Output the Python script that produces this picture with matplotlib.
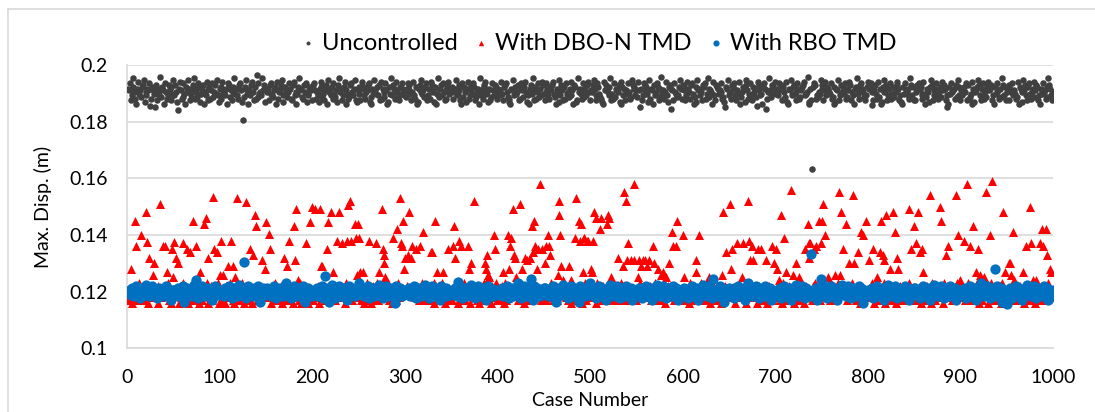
import numpy as np
import matplotlib
matplotlib.use("Agg")
import matplotlib.pyplot as plt
from matplotlib.lines import Line2D

plt.rcParams['font.family'] = ['Lato', 'DejaVu Sans']

# values are stored as one character per case: value = base + index(char) * step
ALPHABET = "0123456789abcdefghijklmnopqrstuvwxyzABCDEFGHIJKLMNOPQRSTUVWXYZ"

# Uncontrolled (base 0.1719, step 0.0006)
UNC_CODES = [
    "xwAqtyDvroxBuwsyzCptvxwAnrywuBzqvxtEsywoAvrtzxqyuC",
    "tzvpyxBwrAsuoyvCxqtwzDrvxsAypuwzovtBxqyrwAsvzuCtpx",
    "ryBuvtxoAzswqyvDuxtrzAwpvsyCxuowtzBvqyrxAsuvtDwzpx",
    "vxqzAutswyoBrvxzCtpuywsvAxrqzBtvouyDwxsrzvAptuyxwq",
    "zAwrvtpxyBsuqwzoCvxtyrAuswpzDvxqtyBowurszAvtxCqpwy",
    "uqxBytrvwzAposxvCwuytzqBrxvsAwopyuDtzxrvBwsqyuAxtv",
    "sxAwzuqvBtryopxzCvuwsyAqtxrBzvpwyouDsxztAvqwryBuxv",
    "yrvxCtuzwqoAsyvpxBrtwzuAyqsvxoDtwrzyBuvpxqsAwtzyvr",
    "xtwBuqyzAvsrpoxwCtyuvzqrAxwsyBvptoxzuDwqyrvAsxtBzu",
    "qAvxtrywzBusoxvpCtzwqyrAuvsxBtwozypqDvxurAswytzBvq",
    "wvzCxqtAyusrpoBwzxvtyDqurAsxwvzpoBytxqwuAvrsCzyxtw",
    "sBwmxqtAzvyupCrxwoztvAyqsxEuwrvBtpyzxlwqAvustyCxrz",
    "ywqtBxvrzAuosypCwxtvqzyAruDsxwvoBtqzyxuwAvrspmyxCt",
    "vrzyAxtqwuBosvyxpCzwruAtqyvxsnBwztuoyAxqrvDwsuzyxB",
    "uxtAwzqyrvsBpoxwCtyzuvqAxrswyzBtuvEopxqwyAzrtsvuCx",
    "zqwBtyxvuArsoypxwCqtzvyuArxswBzqvtoxyDuwrzAxvsqtyB",
    "xyAvtqwzurBsxopyvCwzqtxAruysvwBzxqtpoyuAwvxrsDztyq",
    "qvzxAwytrBuosxvpyCzqwtxAurvysBwzxqtmoyuAvwxrzsCtyq",
    "wtxyvAqzrsuBoxpvwyCztqxAurvsyBwxzqtoyuAvwrxsDztyqv",
    "yzqxvAtwursBoyxpvCwztqyAurvxsBwzyqtoxuAvwrysDzxtqv",
]
UNC_OUTLIERS = [(30, 0.1850), (55, 0.1842), (125, 0.1805), (140, 0.1966), (690, 0.1845),
                (740, 0.1632), (805, 0.1858)]

# With DBO-N TMD: lower band (base 0.110, step 0.001) plus the higher cases
RED_CODES = [
    "7a8c69b78a79d8cb7a97876c8a9d7b8a6c978b7a9c8d7b69a8",
    "8b79a6c87d9a78b6a9c78d7a8b969a7c8b7d6a98c7b8a97d68",
    "9a7b86c9a8d7b7a69c8b7a9d86a7b9c78a6d9b87ac7986b8a7",
    "a8c7968b7da97a8c6b9a78d7b9a86c7a98b7d6ca98b7a69c87",
    "7b9a8c67d8a9b78a6c97b8da7968c9a7b86d9a7c8b79a6d8c7",
    "8a7c96b8d7a9b67c8a9d7b8a96c7ba8d79a6b8c97ad8b769ca",
    "9c8a7b6d9a87cb79a8d6b7a9c87b9a6d8c7ab97d8a69b7c8a9",
    "7d8a9b6c7a98bd7a9c86b7a9d8c7b6a97c8da7b98a6c9b7d87",
    "a9b7c86d7a9b8c79a6d8b7ca97b86a9dc7a8b97c6a8d9b7a78",
    "8c7a9b6d87a9c7b8a69d7cb8a79c86a7bd9a8c7b69a8d7c9b8",
    "b7a98c6d7b9a8c79a6bd87ca97b8a6c9d7a8b79c6a8db7a987",
    "9a8d7b6c9a87b9c7a86db7a9c8b79a6d8c7ab98a7c6d9b87a9",
    "7c9a8b6d7a9c8b79a6cd87ba97c8a69db7a8c97b6a8d9c7a8b",
    "a7d8b96c7a8b9c7a9d68b7ac97b8a6d9c7a8b97d6ac8b9a7c8",
    "8b9a7c6d8a79b7ca98d6b7a9c8a7b96dc8a7b9a7c6d8b9a7c9",
    "c7a9b86d7a8c9b7a9d6c8b7a98c7b6a9dc8a7b97a6c8d9b7a8",
    "7a8d9b6c7a9b8c7a9d68cb7a98b7c6a9d8c7ab97a8c6d9b7a8",
    "9b7a8c6d9a7b8c7a96db8a7c9b8a7c6d9a8b7ca97b8a6dc9a7",
    "8c9a7b6d8a7c9b7a8d96cb7a98c7b6a9d8a7cb97a8c6d9b7a8",
    "a8b7c96d7a9b8c7a9d6c8b7a9c8b7a6d9c8a7b97a8c6d9b7a8",
]
RED_SPIKES = [
    (4, .128), (9, .145), (10, .136), (15, .140), (21, .148), (22, .1375), (24, .132), (28, .126),
    (29, .130), (36, .151), (39, .136), (41, .136), (43, .127), (49, .135), (50, .125), (51, .1375),
    (53, .132), (55, .130), (61, .137), (65, .135), (68, .134), (71, .145), (74, .136), (79, .127),
    (83, .144), (85, .146), (88, .132), (93, .1535), (94, .135), (97, .134), (100, .126), (102, .138),
    (104, .126), (109, .129), (112, .138), (115, .129), (117, .125), (119, .153), (129, .1517), (133, .135),
    (136, .133), (138, .147), (139, .143), (146, .131), (149, .128), (150, .1445), (153, .1405), (154, .135),
    (170, .132), (173, .129), (175, .138), (180, .143), (181, .131), (182, .149), (185, .124), (193, .137),
    (198, .1445), (200, .150), (203, .149), (208, .149), (209, .129), (211, .129), (216, .135), (217, .1445),
    (220, .148), (223, .127), (227, .138), (229, .148), (232, .137), (238, .138), (239, .1505), (246, .144),
    (247, .139), (248, .126),
    (241, .152), (242, .138), (249, .144), (250, .139), (252, .127), (255, .127), (261, .138), (269, .137),
    (272, .127), (275, .149), (276, .135), (277, .133), (278, .130), (279, .125), (287, .139), (292, .142),
    (295, .153), (296, .137), (297, .136), (298, .145), (299, .128), (300, .132), (303, .133), (305, .148),
    (307, .132), (308, .136), (312, .135), (316, .136), (320, .141), (328, .134), (329, .134), (333, .145),
    (335, .127), (341, .127), (347, .135), (352, .136), (353, .143), (354, .132), (358, .138), (361, .136),
    (368, .136), (369, .128), (372, .130), (375, .152), (387, .130), (388, .128), (389, .133), (390, .126),
    (391, .125), (396, .140), (397, .135), (406, .127), (411, .140), (413, .128), (414, .136), (415, .139),
    (417, .149), (418, .133), (419, .132), (420, .125), (424, .151), (427, .128), (430, .132), (432, .131),
    (435, .132), (437, .143), (438, .134), (439, .145), (441, .136), (443, .128), (444, .135), (446, .158),
    (448, .135), (451, .130), (452, .136), (455, .140), (456, .136), (457, .133), (465, .126), (466, .147),
    (467, .152), (468, .140), (469, .129), (471, .124), (477, .129), (479, .124), (484, .139), (485, .153),
    (488, .145), (489, .138), (492, .127), (494, .139), (498, .138),
    (490, .144), (493, .139), (497, .138), (501, .128), (502, .127), (503, .138), (504, .148), (506, .146),
    (511, .142), (512, .146), (518, .144), (519, .147), (521, .146), (523, .125), (530, .132), (536, .129),
    (537, .155), (539, .152), (540, .131), (541, .137), (544, .131), (547, .158), (548, .131), (552, .125),
    (553, .131), (555, .129), (557, .131), (559, .131), (562, .129), (564, .131), (568, .136), (569, .130),
    (573, .128), (577, .126), (579, .127), (582, .125), (585, .130), (589, .141), (590, .136), (593, .136),
    (594, .145), (600, .140), (602, .125), (614, .131), (615, .127), (618, .140), (629, .125), (643, .126),
    (644, .148), (647, .134), (651, .151), (652, .128), (653, .135), (659, .137), (664, .125), (665, .137),
    (671, .152), (672, .138), (673, .131), (675, .136), (676, .131), (681, .135), (685, .135), (690, .131),
    (697, .136), (699, .130), (701, .135), (702, .128), (704, .124), (706, .147), (709, .139), (712, .127),
    (717, .156), (719, .126), (723, .130), (726, .125), (732, .135), (735, .144), (736, .132), (737, .137),
    (744, .136), (747, .145),
    (738, .137), (742, .135), (749, .137), (750, .145), (752, .151), (754, .140), (757, .125), (765, .126),
    (769, .155), (770, .126), (771, .148), (773, .135), (776, .144), (780, .130), (784, .154), (785, .130),
    (789, .134), (793, .141), (795, .140), (798, .145), (801, .131), (806, .135), (810, .125), (813, .134),
    (814, .145), (816, .133), (817, .131), (820, .147), (824, .128), (827, .148), (829, .141), (832, .132),
    (833, .128), (844, .149), (847, .135), (850, .143), (852, .137), (854, .148), (856, .134), (858, .135),
    (860, .127), (867, .154), (878, .150), (879, .145), (884, .133), (887, .136), (895, .154), (897, .140),
    (900, .124), (904, .138), (907, .158), (910, .136), (914, .143), (917, .127), (919, .135), (921, .126),
    (926, .125), (928, .155), (932, .140), (934, .159), (946, .148), (948, .127), (952, .130), (954, .130),
    (955, .126), (957, .141), (958, .124), (968, .127), (971, .136), (975, .150), (976, .137), (978, .124),
    (982, .124), (986, .137), (988, .142), (989, .136), (992, .142), (994, .133), (997, .128), (998, .127),
]

# With RBO TMD (base 0.1129, step 0.0006)
BLUE_CODES = [
    "cbdaecb9dfcab8ecdbagcdb9ecfadbc8dbeacbd9cfebadc7bd",
    "dacbe9cdbfa8cdebcab9dgcbea8dcbfc9adbecdab7cefdbacb",
    "bcda9ecbdfab8cedbca9gdbecadb8cfdbac9edbcafd6bcedab",
    "ecbd9acdfb8cadebc9bdahcebd8cafdbc9eadbcf7dcbeabdc9",
    "adcbe9dcbaf8dceb9cadgbce8dbafc9bdecab7dfcbead9cbdh",
    "cbead9cbdf8acdbe9cbadgcbe8dacfb9dcebad5cfbdaec9bdc",
    "dbcae9bcdfa8cbed9abcdgebc8dafbc9edcab7fcdbae9cdbac",
    "bdcea9dbcfa8dcbe9acbdgecb8adfcb9decba7cfdbea9dbcad",
    "cdbae9cdbfa8bcde9cabdhecb8dafcb9edbca7dfcbea9bdcae",
    "ebdca9bcdfa8dcbe9acbgdecb8dafbc9edcab6fdcbae9cdbah",
    "bcaed8cbdfa9ecbd7cabdgecb9dafbc8edcab9fdcbae7cdbac",
    "dbeca8bcdfa9dcbe7acbdgecb9adfcb8decba9cfdbea7dbcad",
    "cebda8cdbfa9bcde7cabdgecb9dafcb8edbca9dfcbea6bdcae",
    "adbce8bcdfa9dcbe7acbhdecb9dafbc8edcab9fdcbae7cdbac",
    "bdace8dbcfa9cdbe7abcdgebc9dafbc8edcab9fcdbae7cdbah",
    "cadbe8cbdfa9ecbd7cabdgecb9adfcb8decba9cfdbea5dbcad",
    "dcbae8cdbfa9bcde7cabdgecb9dafcb8edbca9dfcbea7bdcae",
    "ebcda8bcdfa9dcbe7acbgdecb9dafbc8edcab9fdcbae7cdbac",
    "bdcae8dbcfa9cdbe7abcdhebc9dafbc8edcab9fcdbae6cdbah",
    "cbdea8cbdfa9ecbd7cabdgecb9adfcb8decba9cfdbea7dbcad",
]
BLUE_OUTLIERS = [(62, .1163), (75, .1240), (126, .1305), (192, .1164), (214, .1255), (218, .1165),
                 (357, .1235), (436, .1245), (463, .1165), (633, .1245), (739, .1333), (749, .1245),
                 (937, .1279), (950, .1156)]


def decode(lines, base, step, outliers):
    vals = np.array([base + ALPHABET.index(c) * step for c in "".join(lines)])
    for case, v in outliers:
        if case - 1 < len(vals):
            vals[case - 1] = v
    return vals


unc = decode(UNC_CODES, 0.1719, 0.0006, UNC_OUTLIERS)
red = decode(RED_CODES, 0.110, 0.001, RED_SPIKES)
blue = decode(BLUE_CODES, 0.1129, 0.0006, BLUE_OUTLIERS)

fig = plt.figure(figsize=(10.95, 4.12), dpi=100)
ax = fig.add_axes([127 / 1095, 1 - 348.3 / 412, (1053 - 127) / 1095, (348.3 - 65) / 412])

ax.scatter(np.arange(1, len(unc) + 1), unc, s=22, color='#404040', marker='o',
           linewidths=0, label='Uncontrolled', zorder=3)
ax.scatter(np.arange(1, len(red) + 1), red, s=42, color='#ff0000', marker='^',
           linewidths=0, label='With DBO-N TMD', zorder=4)
ax.scatter(np.arange(1, len(blue) + 1), blue, s=55, color='#0070c0', marker='o',
           linewidths=0, label='With RBO TMD', zorder=5)

ax.set_xlim(0, 1000)
ax.set_ylim(0.1, 0.2)
ax.set_xticks(np.arange(0, 1001, 100))
ax.set_yticks([0.1, 0.12, 0.14, 0.16, 0.18, 0.2])
ax.set_yticklabels(['0.1', '0.12', '0.14', '0.16', '0.18', '0.2'])
ax.tick_params(length=0, labelsize=14, colors='black')
ax.tick_params(axis='x', pad=15)
ax.tick_params(axis='y', pad=14)
ax.yaxis.grid(True, color='#d9d9d9', lw=1.2, zorder=0)
ax.set_axisbelow(True)
for side in ['top', 'right']:
    ax.spines[side].set_visible(False)
for side in ['left', 'bottom']:
    ax.spines[side].set_color('#d9d9d9')
    ax.spines[side].set_linewidth(1.2)

ax.set_xlabel('Case Number', fontsize=14, labelpad=4)
ax.set_ylabel('Max. Disp. (m)', fontsize=14, labelpad=12)

leg = fig.legend(loc='center', bbox_to_anchor=(599 / 1095, 1 - 43 / 412), ncol=3, frameon=False,
                 fontsize=17, handlelength=0.5, handletextpad=0.35, columnspacing=0.75,
                 markerscale=0.6)

# chart-area outline (only top and left edges fall inside the picture)
fig.add_artist(Line2D([8 / 1095, 1], [1 - 9 / 412, 1 - 9 / 412], color='#d9d9d9', lw=1.2,
                      transform=fig.transFigure))
fig.add_artist(Line2D([8 / 1095, 8 / 1095], [0, 1 - 9 / 412], color='#d9d9d9', lw=1.2,
                      transform=fig.transFigure))

fig.savefig('out.png', dpi=100)
